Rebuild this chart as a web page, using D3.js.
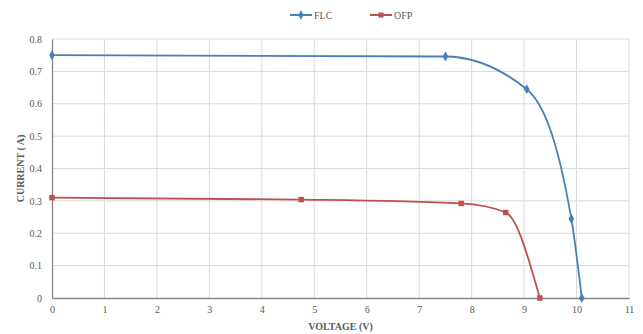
<!DOCTYPE html>
<html>
<head>
<meta charset="utf-8">
<script src="https://cdn.jsdelivr.net/npm/d3@7"></script>
<style>
  body { margin: 0; background: #fff; }
  svg text { font-family: "Liberation Serif", "DejaVu Serif", serif; }
</style>
</head>
<body>
<svg id="chart" width="643" height="334"></svg>
<script>
// series data
const flcVoltage = [0, 7.5, 9.05, 9.9, 10.1];
const flcCurrent = [0.75, 0.746, 0.645, 0.245, 0];
const ofpVoltage = [0, 4.75, 7.8, 8.65, 9.3];
const ofpCurrent = [0.31, 0.304, 0.292, 0.264, 0];

const xTicks = [0, 1, 2, 3, 4, 5, 6, 7, 8, 9, 10, 11];
const yTicks = [0, 0.1, 0.2, 0.3, 0.4, 0.5, 0.6, 0.7, 0.8];

const series = [
  { name: 'FLC', color: '#4a7ebb', shape: d3.symbolDiamond, x: flcVoltage, y: flcCurrent },
  { name: 'OFP', color: '#c0504d', shape: d3.symbolSquare, x: ofpVoltage, y: ofpCurrent },
];

const width = 643, height = 334;
const margin = { top: 39, right: 14, bottom: 36, left: 52 };
const innerW = width - margin.left - margin.right;
const innerH = height - margin.top - margin.bottom;

const svg = d3.select('#chart');
const g = svg.append('g').attr('transform', `translate(${margin.left},${margin.top})`);

const x = d3.scaleLinear().domain([0, 11]).range([0, innerW]);
const y = d3.scaleLinear().domain([0, 0.8]).range([innerH, 0]);

// grid
g.append('g')
  .selectAll('line')
  .data(xTicks.slice(1))
  .join('line')
  .attr('x1', d => x(d)).attr('x2', d => x(d))
  .attr('y1', 0).attr('y2', innerH)
  .attr('stroke', '#d9d9d9').attr('stroke-width', 1);

g.append('g')
  .selectAll('line')
  .data(yTicks.slice(1))
  .join('line')
  .attr('x1', 0).attr('x2', innerW)
  .attr('y1', d => y(d)).attr('y2', d => y(d))
  .attr('stroke', '#d9d9d9').attr('stroke-width', 1);

// axes
const xAxis = g.append('g')
  .attr('transform', `translate(0,${innerH})`)
  .call(d3.axisBottom(x).tickValues(xTicks).tickSize(0).tickPadding(8).tickFormat(d3.format('d')));
const yAxis = g.append('g')
  .call(d3.axisLeft(y).tickValues(yTicks).tickSize(0).tickPadding(10).tickFormat(d => d === 0 ? '0' : d3.format('.1f')(d)));

[xAxis, yAxis].forEach(a => {
  a.select('.domain').attr('stroke', '#868686').attr('stroke-width', 1.3);
  a.selectAll('text').attr('fill', '#595959').attr('font-size', 10)
    .attr('font-family', '"Liberation Serif", serif');
});

// lines - monotone keeps the flat part flat and rounds the knee
const line = d3.line()
  .x(d => x(d[0]))
  .y(d => y(d[1]))
  .curve(d3.curveMonotoneX);

series.forEach(s => {
  const pts = s.x.map((v, i) => [v, s.y[i]]);
  g.append('path')
    .datum(pts)
    .attr('d', line)
    .attr('fill', 'none')
    .attr('stroke', s.color)
    .attr('stroke-width', 1.8);
  g.append('g')
    .selectAll('path')
    .data(pts)
    .join('path')
    .attr('transform', d => `translate(${x(d[0])},${y(d[1])})`)
    .attr('d', d3.symbol().type(s.shape).size(s.name === 'FLC' ? 28 : 30))
    .attr('fill', s.color);
});

// axis titles
svg.append('text')
  .attr('x', margin.left + innerW / 2)
  .attr('y', 330)
  .attr('text-anchor', 'middle')
  .attr('font-size', 10)
  .attr('font-weight', 'bold')
  .attr('fill', '#595959')
  .text('VOLTAGE (V)');

svg.append('text')
  .attr('transform', `translate(24,${margin.top + innerH / 2}) rotate(-90)`)
  .attr('text-anchor', 'middle')
  .attr('font-size', 10)
  .attr('font-weight', 'bold')
  .attr('fill', '#595959')
  .text('CURRENT ( A)');

// legend
const legend = svg.append('g').attr('transform', 'translate(290,15)');
series.forEach((s, i) => {
  const lg = legend.append('g').attr('transform', `translate(${i * 80},0)`);
  lg.append('line').attr('x1', 0).attr('x2', 22).attr('y1', 0).attr('y2', 0)
    .attr('stroke', s.color).attr('stroke-width', 2);
  lg.append('path').attr('transform', 'translate(11,0)')
    .attr('d', d3.symbol().type(s.shape).size(26)).attr('fill', s.color);
  lg.append('text').attr('x', 24).attr('y', 4)
    .attr('font-size', 10).attr('fill', '#595959').text(s.name);
});
</script>
</body>
</html>
